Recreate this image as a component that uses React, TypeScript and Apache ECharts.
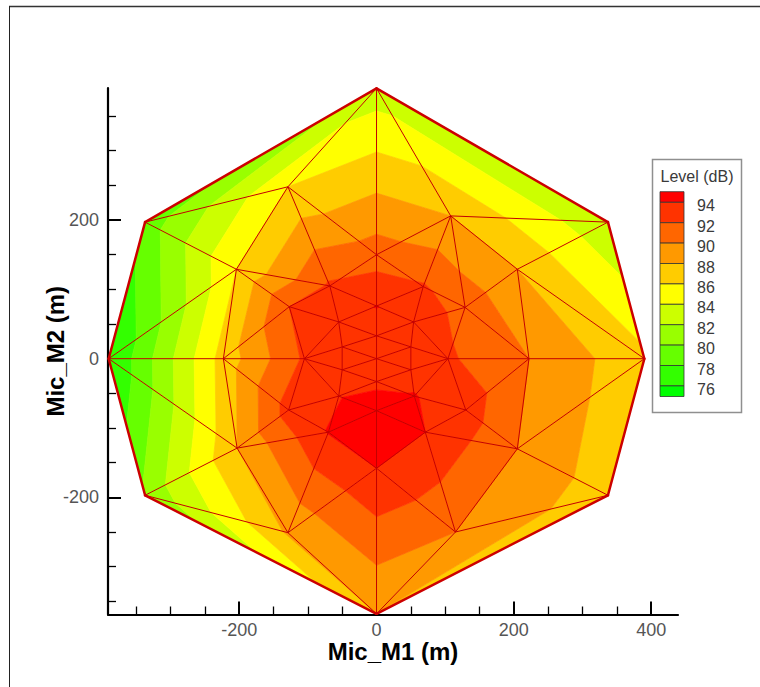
import React, { useEffect, useRef } from "react";
import * as echarts from "echarts";

// ---- data ----
const nodeX = [0, 337, 390, 337, 0, -337, -390, -337, -129, 108, -204, 205, -223, 222, -203, 205, -129, 115, 0, 0, -68, 68, -127, 129, -105, 104, -128, 130, -70, 71, 0, 0, -55, 54, 0, -50, 50, 0, -50, 50, 0, -55, 55];
const nodeY = [390, 197, 0, -197, -368, -197, 0, 197, 248, 206, 129, 129, 0, 0, -129, -130, -251, -250, 150, -158, 105, 104, 75, 74, 0, 0, -74, -74, -106, -106, 76, -75, 53, 53, 33, 17, 17, 0, -16, -16, -33, -54, -54];
const nodeLevel = [82.9, 82.3, 86.5, 86.8, 88.0, 80.3, 75.8, 78.8, 86.0, 88.0, 86.0, 88.0, 86.8, 90.0, 88.0, 90.0, 88.3, 90.0, 91.0, 94.0, 92.3, 92.2, 92.0, 91.3, 92.3, 92.3, 92.8, 93.0, 94.1, 94.0, 94.05, 95.0, 93.3, 93.3, 93.5, 93.3, 93.3, 93.5, 93.4, 93.4, 93.6, 93.9, 94.1];
const contourLevels = [76, 78, 80, 82, 84, 86, 88, 90, 92, 94];
const bandColors = ["#00ff00", "#33ff00", "#66ff00", "#99ff00", "#ccff00", "#ffff00", "#ffcc00", "#ff9900", "#ff6600", "#ff3300", "#ff0000"];
const xMajorTicks = [-200, 0, 200, 400];
const xMinorTicks = [-350, -300, -250, -150, -100, -50, 50, 100, 150, 250, 300, 350];
const yMajorTicks = [-200, 0, 200];
const yMinorTicks = [-350, -300, -250, -150, -100, -50, 50, 100, 150, 250, 300, 350];

const FONT = "'Liberation Sans', Arial, Helvetica, sans-serif";

// Delaunay triangulation (Bowyer-Watson)
function triangulate(xs: number[], ys: number[]): number[][] {
  const n = xs.length;
  const px = xs.slice();
  const py = ys.slice();
  const M = 1e5;
  px.push(-M, M, 0);
  py.push(-M, -M, M);
  let tris: number[][] = [[n, n + 1, n + 2]];
  const inCirc = (t: number[], i: number) => {
    const ax = px[t[0]], ay = py[t[0]], bx = px[t[1]], by = py[t[1]], cx = px[t[2]], cy = py[t[2]];
    const d = 2 * (ax * (by - cy) + bx * (cy - ay) + cx * (ay - by));
    const a2 = ax * ax + ay * ay, b2 = bx * bx + by * by, c2 = cx * cx + cy * cy;
    const ux = (a2 * (by - cy) + b2 * (cy - ay) + c2 * (ay - by)) / d;
    const uy = (a2 * (cx - bx) + b2 * (ax - cx) + c2 * (bx - ax)) / d;
    const r2 = (ax - ux) * (ax - ux) + (ay - uy) * (ay - uy);
    const dd = (px[i] - ux) * (px[i] - ux) + (py[i] - uy) * (py[i] - uy);
    return dd < r2 * (1 - 1e-9);
  };
  for (let i = 0; i < n; i++) {
    const bad: number[][] = [];
    const keep: number[][] = [];
    for (const t of tris) (inCirc(t, i) ? bad : keep).push(t);
    const cnt = new Map<string, number>();
    const key = (a: number, b: number) => (a < b ? a + "," + b : b + "," + a);
    for (const t of bad) for (let k = 0; k < 3; k++) {
      const kk = key(t[k], t[(k + 1) % 3]);
      cnt.set(kk, (cnt.get(kk) || 0) + 1);
    }
    for (const t of bad) for (let k = 0; k < 3; k++) {
      const a = t[k], b = t[(k + 1) % 3];
      if (cnt.get(key(a, b)) === 1) keep.push([a, b, i]);
    }
    tris = keep;
  }
  return tris.filter((t) => t[0] < n && t[1] < n && t[2] < n);
}

function clipPoly(poly: number[][], level: number, keepAbove: boolean): number[][] {
  const out: number[][] = [];
  for (let i = 0; i < poly.length; i++) {
    const p = poly[i];
    const q = poly[(i + 1) % poly.length];
    const pin = keepAbove ? p[2] >= level : p[2] <= level;
    const qin = keepAbove ? q[2] >= level : q[2] <= level;
    if (pin) out.push(p);
    if (pin !== qin) {
      const t = (level - p[2]) / (q[2] - p[2]);
      out.push([p[0] + t * (q[0] - p[0]), p[1] + t * (q[1] - p[1]), level]);
    }
  }
  return out;
}

export default function App() {
  const ref = useRef<HTMLDivElement>(null);
  useEffect(() => {
    if (!ref.current) return;
    const chart = echarts.init(ref.current, null, { renderer: "svg" });

    const tris = triangulate(nodeX, nodeY);
    const triData = tris.map((t) => [
      nodeX[t[0]], nodeY[t[0]], nodeLevel[t[0]],
      nodeX[t[1]], nodeY[t[1]], nodeLevel[t[1]],
      nodeX[t[2]], nodeY[t[2]], nodeLevel[t[2]],
    ]);
    const edgeCount = new Map<string, number>();
    for (const t of tris) for (let k = 0; k < 3; k++) {
      const a = t[k], b = t[(k + 1) % 3];
      const kk = a < b ? a + "," + b : b + "," + a;
      edgeCount.set(kk, (edgeCount.get(kk) || 0) + 1);
    }
    const innerEdges: number[][] = [];
    const hullEdges: number[][] = [];
    edgeCount.forEach((c, kk) => {
      const [a, b] = kk.split(",").map(Number);
      const row = [nodeX[a], nodeY[a], nodeX[b], nodeY[b]];
      (c === 1 ? hullEdges : innerEdges).push(row);
    });

    // legend graphics
    const legendEls: any[] = [];
    const boxX = 652.5, boxY = 159.5;
    legendEls.push({ type: "rect", shape: { x: boxX, y: boxY, width: 89, height: 253 }, style: { fill: "#fff", stroke: "#8f8f8f", lineWidth: 1.5 }, z: 10 });
    legendEls.push({ type: "text", x: 697, y: 176.5, style: { text: "Level (dB)", fontSize: 16, fontFamily: FONT, fill: "#3a3a3a", align: "center", verticalAlign: "middle" }, z: 11 });
    const swX = 660, swW = 24, rowH = 20.4, firstLine = 202.3, half = 10.6;
    const nb = bandColors.length;
    for (let i = 0; i < nb; i++) {
      const band = nb - 1 - i; // top = highest band
      let y0: number, h: number;
      if (i === 0) { y0 = firstLine - half; h = half; }
      else if (i === nb - 1) { y0 = firstLine + (i - 1) * rowH; h = half; }
      else { y0 = firstLine + (i - 1) * rowH; h = rowH; }
      legendEls.push({ type: "rect", shape: { x: swX, y: y0, width: swW, height: h }, style: { fill: bandColors[band], stroke: "#333", lineWidth: 0.8 }, z: 11 });
    }
    for (let i = 0; i < contourLevels.length; i++) {
      const lv = contourLevels[contourLevels.length - 1 - i];
      legendEls.push({ type: "text", x: 697, y: firstLine + i * rowH + 3.5, style: { text: String(lv), fontSize: 16, fontFamily: FONT, fill: "#3a3a3a", align: "left", verticalAlign: "middle" }, z: 11 });
    }
    // frame lines
    legendEls.push({ type: "line", shape: { x1: 9, y1: 6.5, x2: 760, y2: 6.5 }, style: { stroke: "#333", lineWidth: 1.5 }, z: 1 });
    legendEls.push({ type: "line", shape: { x1: 9.5, y1: 6, x2: 9.5, y2: 687 }, style: { stroke: "#222", lineWidth: 1 }, z: 1 });

    const xr = { min: -391, max: 439 };
    const yr = { min: -369, max: 390.5 };
    const nameStyle = { fontSize: 24, fontWeight: "bold", fontFamily: FONT, color: "#000" };

    const option: any = {
      animation: false,
      backgroundColor: "#fff",
      grid: { left: 108, top: 88, width: 570, height: 526.5, containLabel: false },
      xAxis: [
        {
          type: "value", ...xr, position: "bottom",
          axisLine: { show: true, onZero: false, lineStyle: { color: "#000", width: 2.2 } },
          axisTick: { show: true, inside: true, length: 8, customValues: xMinorTicks, lineStyle: { color: "#000", width: 1.3 } },
          axisLabel: { show: false }, splitLine: { show: false },
          name: "Mic_M1 (m)", nameLocation: "middle", nameGap: 25, nameTextStyle: nameStyle,
        },
        {
          type: "value", ...xr, position: "bottom",
          axisLine: { show: false, onZero: false },
          axisTick: { show: true, inside: true, length: 13, customValues: xMajorTicks, lineStyle: { color: "#000", width: 2 } },
          axisLabel: { show: true, customValues: xMajorTicks, fontSize: 18, fontFamily: FONT, color: "#555", margin: 6 },
          splitLine: { show: false },
        },
      ],
      yAxis: [
        {
          type: "value", ...yr, position: "left",
          axisLine: { show: true, onZero: false, lineStyle: { color: "#000", width: 2.2 } },
          axisTick: { show: true, inside: true, length: 8, customValues: yMinorTicks, lineStyle: { color: "#000", width: 1.3 } },
          axisLabel: { show: false }, splitLine: { show: false },
          name: "Mic_M2 (m)", nameLocation: "middle", nameGap: 41, nameTextStyle: nameStyle,
        },
        {
          type: "value", ...yr, position: "left",
          axisLine: { show: false, onZero: false },
          axisTick: { show: true, inside: true, length: 13, customValues: yMajorTicks, lineStyle: { color: "#000", width: 2 } },
          axisLabel: { show: true, customValues: yMajorTicks, fontSize: 18, fontFamily: FONT, color: "#555", margin: 9 },
          splitLine: { show: false },
        },
      ],
      graphic: { elements: legendEls },
      series: [
        {
          type: "custom", coordinateSystem: "cartesian2d", xAxisIndex: 0, yAxisIndex: 0,
          silent: true, z: 2,
          data: triData,
          encode: { x: [0, 3, 6], y: [1, 4, 7] },
          renderItem: (params: any, api: any) => {
            const pts: number[][] = [0, 1, 2].map((k) => {
              const c = api.coord([api.value(k * 3), api.value(k * 3 + 1)]);
              return [c[0], c[1], api.value(k * 3 + 2)];
            });
            const children: any[] = [];
            for (let b = 0; b < bandColors.length; b++) {
              const lo = b === 0 ? -Infinity : contourLevels[b - 1];
              const hi = b === contourLevels.length ? Infinity : contourLevels[b];
              let poly = clipPoly(pts, lo, true);
              if (poly.length < 3) continue;
              poly = clipPoly(poly, hi, false);
              if (poly.length < 3) continue;
              children.push({
                type: "polygon",
                shape: { points: poly.map((p) => [p[0], p[1]]) },
                style: { fill: bandColors[b], stroke: bandColors[b], lineWidth: 0.7 },
              });
            }
            return { type: "group", children };
          },
        },
        {
          type: "custom", coordinateSystem: "cartesian2d", xAxisIndex: 0, yAxisIndex: 0,
          silent: true, z: 3,
          data: innerEdges,
          encode: { x: [0, 2], y: [1, 3] },
          renderItem: (params: any, api: any) => {
            const a = api.coord([api.value(0), api.value(1)]);
            const b = api.coord([api.value(2), api.value(3)]);
            return { type: "line", shape: { x1: a[0], y1: a[1], x2: b[0], y2: b[1] }, style: { stroke: "#c40000", lineWidth: 1 } };
          },
        },
        {
          type: "custom", coordinateSystem: "cartesian2d", xAxisIndex: 0, yAxisIndex: 0,
          silent: true, z: 4,
          data: hullEdges,
          encode: { x: [0, 2], y: [1, 3] },
          renderItem: (params: any, api: any) => {
            const a = api.coord([api.value(0), api.value(1)]);
            const b = api.coord([api.value(2), api.value(3)]);
            return { type: "line", shape: { x1: a[0], y1: a[1], x2: b[0], y2: b[1] }, style: { stroke: "#cc0000", lineWidth: 2.5, lineCap: "round" } };
          },
        },
      ],
    };
    chart.setOption(option);
    return () => chart.dispose();
  }, []);
  return <div ref={ref} style={{ position: "fixed", left: 0, top: 0, width: 760, height: 687, background: "#fff" }} />;
}
